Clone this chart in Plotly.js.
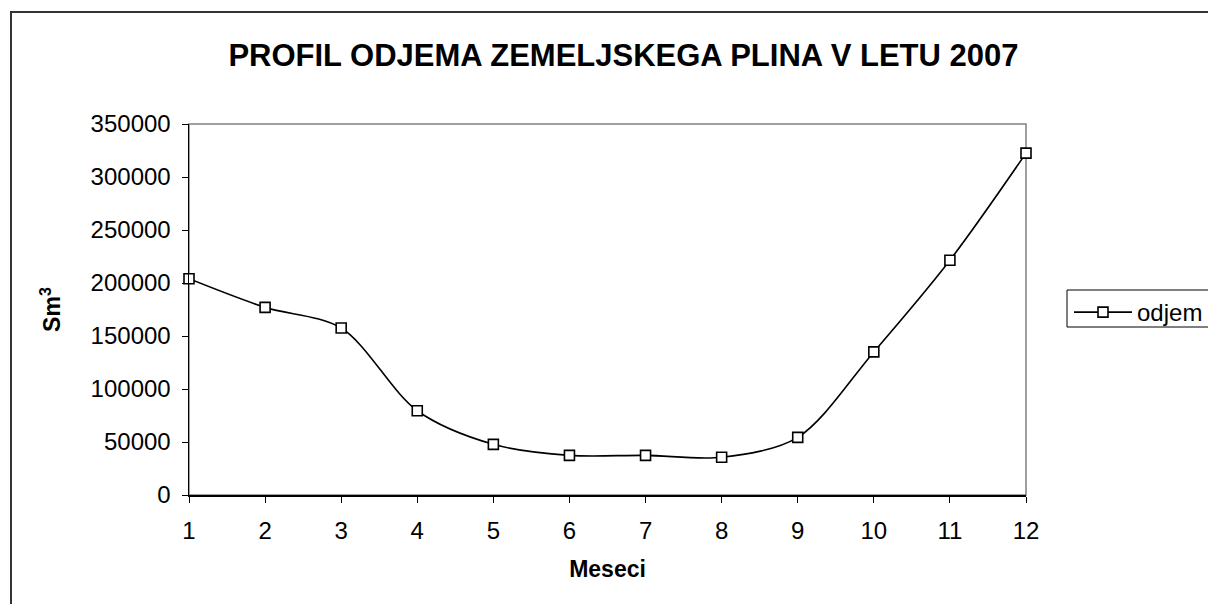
<!DOCTYPE html>
<html>
<head>
<meta charset="utf-8">
<script src="https://cdn.plot.ly/plotly-3.0.1.min.js"></script>
<style>html,body{margin:0;padding:0;background:#fff;}#chart{width:1208px;height:604px;}</style>
</head>
<body>
<div id="chart"></div>
<script>
const months = [1,2,3,4,5,6,7,8,9,10,11,12];
const odjem = [204000,177000,157500,79500,47800,37400,37400,35600,54400,135000,221500,322500];
const seriesName = 'odjem';
const titleText = 'PROFIL ODJEMA ZEMELJSKEGA PLINA V LETU 2007';
const xTitle = 'Meseci';
const yTitle = 'Sm<sup>3</sup>';
const yTicks = [0,50000,100000,150000,200000,250000,300000,350000];

const L = 189, R = 1026, T = 124, B = 495, W = 1208, H = 604;
const pw = R - L, ph = B - T;
const px = p => (p - L) / pw;
const py = p => (B - p) / ph;
const FONT = '"Liberation Sans", Arial, sans-serif';

const trace = {
  x: months, y: odjem, name: seriesName,
  type: 'scatter', mode: 'lines+markers',
  line: {color: '#000', width: 1.6, shape: 'spline', smoothing: 0.9},
  marker: {symbol: 'square', size: 10, color: '#fff', line: {color: '#000', width: 1.6}},
  cliponaxis: false
};

const layout = {
  width: W, height: H,
  margin: {l: L, r: W - R, t: T, b: H - B, autoexpand: false},
  paper_bgcolor: '#fff', plot_bgcolor: '#fff',
  font: {family: FONT, color: '#000', size: 24},
  title: {text: '<b>' + titleText + '</b>', font: {size: 31, family: FONT},
          x: 627 / W, xanchor: 'center', y: 1 - 55 / H, yanchor: 'middle', xref: 'paper'},
  xaxis: {
    range: [1, 12], tickvals: months, ticks: 'outside', ticklen: 6, tickwidth: 1, tickcolor: '#000',
    showline: true, linecolor: '#000', linewidth: 1.5, showgrid: false, zeroline: false,
    tickfont: {size: 24}, ticklabelstandoff: 8,
    title: {text: '<b>' + xTitle + '</b>', font: {size: 23}, standoff: 17}
  },
  yaxis: {
    range: [0, 350000], tickvals: yTicks, ticktext: yTicks.map(String), ticks: 'outside', ticklen: 6, tickwidth: 1, tickcolor: '#000',
    showline: true, linecolor: '#000', linewidth: 1.5, showgrid: false, zeroline: false,
    tickfont: {size: 24}, ticklabelstandoff: 6,
    title: {text: '<b>' + yTitle + '</b>', font: {size: 23}, standoff: 23}
  },
  showlegend: true,
  legend: {
    x: px(1069), y: py(290), xanchor: 'left', yanchor: 'top',
    borderwidth: 0, bgcolor: 'rgba(0,0,0,0)',
    font: {size: 24}, itemwidth: 58, tracegroupgap: 0
  },
  shapes: [
    {type: 'rect', xref: 'paper', yref: 'paper', x0: 0, x1: 1, y0: 0, y1: 1,
     line: {color: '#808080', width: 1.5}, layer: 'below'},
    {type: 'rect', xref: 'paper', yref: 'paper', x0: px(11), x1: px(1215), y0: py(12), y1: py(615),
     line: {color: '#333', width: 2}},
    {type: 'rect', xref: 'paper', yref: 'paper', x0: px(1067), x1: px(1215), y0: py(290), y1: py(327),
     line: {color: '#000', width: 1}, layer: 'below'}
  ]
};

Plotly.newPlot('chart', [trace], layout, {displayModeBar: false, staticPlot: true});
</script>
</body>
</html>
